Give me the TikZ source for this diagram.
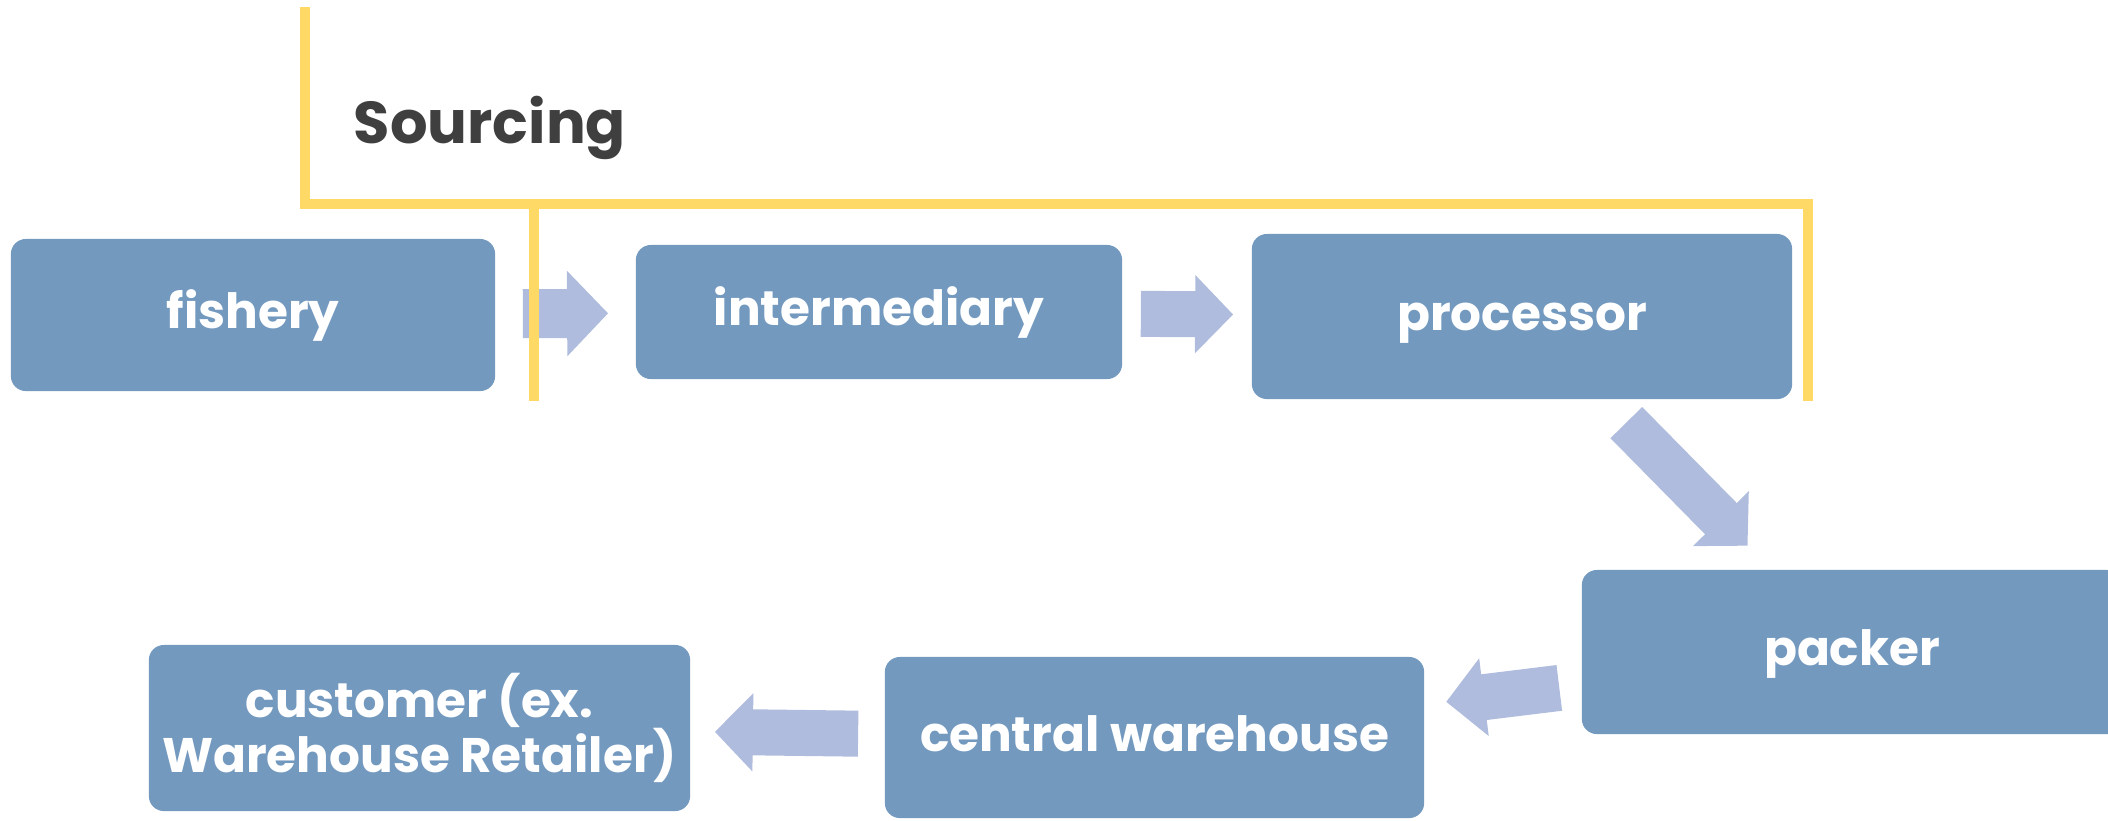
\documentclass[tikz,border=0pt]{standalone}
\usepackage{fontspec}
\setmainfont{Poppins}
\usetikzlibrary{arrows.meta}
\definecolor{boxblue}{HTML}{7399BF}
\definecolor{flowblue}{HTML}{AFBCDD}
\definecolor{lineyellow}{HTML}{FFD966}
\definecolor{textgrey}{HTML}{3F3F3F}
\begin{document}
\begin{tikzpicture}[x=0.01cm, y=-0.01cm,
    stage/.style={fill=boxblue, rounded corners=0.15cm, text=white, align=center,
      inner sep=0pt, font=\bfseries\fontsize{13.8}{15.6}\selectfont},
    oneline/.style={text height=0.36cm, text depth=0.09cm},
    flow/.style={draw=flowblue, line width=0.46cm, -{Triangle[width=0.76cm, length=0.38cm]}},
    guide/.style={draw=lineyellow, line width=0.1cm}]
    \useasboundingbox (0,0) rectangle (2108,820);
    \clip (0,0) rectangle (2108,820);
    % sourcing label
    \node[anchor=base, text=textgrey, font=\bfseries\fontsize{16.8}{20}\selectfont] (sourcing) at (490,143) {Sourcing};
    % upper row
    \node[stage, oneline, minimum width=4.84cm, minimum height=1.52cm] (fishery) at (253,315) {fishery};
    \node[stage, oneline, minimum width=4.86cm, minimum height=1.34cm] (intermediary) at (879,312) {intermediary};
    \node[stage, oneline, minimum width=5.40cm, minimum height=1.65cm] (processor) at (1522,316.5) {processor};
    % lower row
    \node[stage, oneline, minimum width=5.40cm, minimum height=1.64cm] (packer) at (1852,652) {packer};
    \node[stage, oneline, minimum width=5.39cm, minimum height=1.61cm] (warehouse) at (1154.5,737.5) {central warehouse};
    \node[stage, minimum width=5.41cm, minimum height=1.66cm] (customer) at (419.5,728) {customer (ex.\\Warehouse Retailer)};
    % flow arrows
    \draw[flow, line width=0.49cm, -{Triangle[width=0.83cm, length=0.41cm]}, shorten <=0.27cm, shorten >=0.27cm] (fishery) -- (intermediary);
    \draw[flow, shorten <=0.18cm, shorten >=0.18cm] (intermediary) -- (processor);
    \draw[flow, line width=0.445cm, shorten <=0.32cm, shorten >=0.33cm] (processor) -- (packer);
    \draw[flow, shorten <=0.22cm, shorten >=0.215cm] (packer) -- (warehouse);
    \draw[flow, shorten <=0.26cm, shorten >=0.24cm] (warehouse) -- (customer);
    % sourcing bracket
    \draw[guide] (305,7) |- (1808,204) -- (1808,401);
    \draw[guide] (534,202) -- (534,401);
\end{tikzpicture}
\end{document}
